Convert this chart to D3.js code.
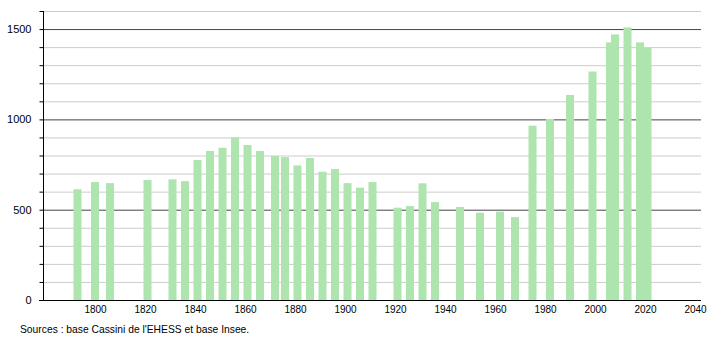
<!DOCTYPE html>
<html>
<head>
<meta charset="utf-8">
<script src="https://cdn.jsdelivr.net/npm/d3@7"></script>
<style>
  body { margin: 0; background: #fff; }
  svg { font-family: "Liberation Sans", Arial, sans-serif; }
</style>
</head>
<body>
<svg id="chart"></svg>
<script>
const years = [1793, 1800, 1806, 1821, 1831, 1836, 1841, 1846, 1851, 1856, 1861, 1866, 1872, 1876,
  1881, 1886, 1891, 1896, 1901, 1906, 1911, 1921, 1926, 1931, 1936, 1946, 1954, 1962, 1968,
  1975, 1982, 1990, 1999, 2006, 2008, 2013, 2018, 2021];
const population = [613, 653, 647, 664, 668, 658, 775, 825, 843, 900, 858, 825, 797, 791,
  745, 786, 710, 725, 647, 622, 653, 511, 520, 646, 542, 515, 483, 489, 459,
  965, 1002, 1135, 1265, 1426, 1470, 1509, 1426, 1396];
const xTicks = [1800, 1820, 1840, 1860, 1880, 1900, 1920, 1940, 1960, 1980, 2000, 2020, 2040];
const yTicks = [0, 500, 1000, 1500];
const source = "Sources : base Cassini de l'EHESS et base Insee.";

const width = 710;
const height = 340;
const plotLeft = 43, plotRight = 701, plotTop = 11, plotBottom = 300;

const svg = d3.select("#chart").attr("width", width).attr("height", height);

const xScale = d3.scaleLinear().domain([1779.2, 2042.4]).range([plotLeft, plotRight]);
const yScale = d3.scaleLinear().domain([0, 1600]).range([plotBottom, plotTop]);

// grid lines every 100, darker every 500
svg.append("g")
   .selectAll("line")
   .data(d3.range(100, 1601, 100))
   .enter()
   .append("line")
   .attr("x1", plotLeft)
   .attr("x2", plotRight)
   .attr("y1", d => yScale(d) + 0.5)
   .attr("y2", d => yScale(d) + 0.5)
   .attr("stroke", d => d % 500 === 0 ? "#444" : "#ccc")
   .attr("stroke-width", 1);

// bars
svg.append("g")
   .selectAll("rect")
   .data(years)
   .enter()
   .append("rect")
   .attr("x", d => xScale(d) - 4)
   .attr("width", 8)
   .attr("y", (d, i) => yScale(population[i]))
   .attr("height", (d, i) => plotBottom - yScale(population[i]))
   .attr("fill", "#aee4ae");

// y axis
const yAxis = d3.axisLeft(yScale)
  .tickValues(d3.range(0, 1601, 100))
  .tickSize(4)
  .tickFormat(d => yTicks.includes(d) ? d : "");
const gy = svg.append("g")
   .attr("transform", "translate(" + (plotLeft + 0.5) + ",0)")
   .call(yAxis);
gy.select(".domain").attr("d", "M0," + plotTop + "V" + plotBottom).attr("stroke", "#000");
gy.selectAll("text").attr("font-size", 11).attr("x", -12).attr("fill", "#000")
  .attr("font-family", "Liberation Sans, Arial, sans-serif");

// x axis
const xAxis = d3.axisBottom(xScale)
  .tickValues(xTicks)
  .tickSize(0)
  .tickFormat(d3.format("d"));
const gx = svg.append("g")
   .attr("transform", "translate(0," + (plotBottom + 0.5) + ")")
   .call(xAxis);
gx.select(".domain").attr("d", "M" + (plotLeft - 4) + ",0H" + plotRight).attr("stroke", "#000");
gx.selectAll("text").attr("font-size", 10).attr("dy", "0.9em").attr("fill", "#000")
  .attr("font-family", "Liberation Sans, Arial, sans-serif");

svg.append("text")
   .attr("x", 20)
   .attr("y", 333)
   .attr("font-size", 10.3)
   .text(source);
</script>
</body>
</html>
